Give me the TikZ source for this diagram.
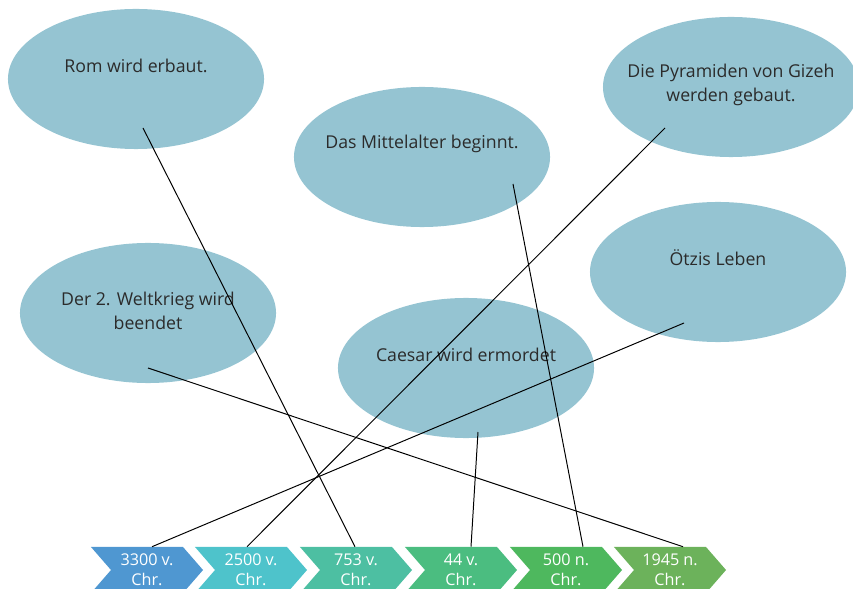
\documentclass[tikz,border=0pt]{standalone}
\usepackage{fontspec}
\setmainfont{Open Sans}
\usetikzlibrary{shapes.geometric,shapes.symbols,calc}
\definecolor{bubblefill}{HTML}{95C4D2}
\definecolor{bubbletext}{HTML}{2B2B2B}
\definecolor{c1}{HTML}{4F97D1}
\definecolor{c2}{HTML}{4EC3CB}
\definecolor{c3}{HTML}{4DBFA2}
\definecolor{c4}{HTML}{4BBD80}
\definecolor{c5}{HTML}{4EB85E}
\definecolor{c6}{HTML}{6CB25B}
\begin{document}
\begin{tikzpicture}[x=0.025cm,y=-0.025cm,%
% common options for the ellipses:
bubble/.style = {ellipse, fill=bubblefill, minimum width=6.4cm,
            minimum height=3.5cm, inner sep=0},
btext/.style = {align=center, text=bubbletext, font=\fontsize{12.6}{17}\selectfont},
% common options for the arrows of the time line:
era/.style = {signal, signal to=east, signal from=west, signal pointer angle=98,
            fill=#1, text=white, align=center, minimum width=2.8cm,
            minimum height=1.15cm, inner sep=0,
            font=\fontsize{11.5}{14.2}\selectfont},
link/.style = {draw=black, line width=0.7pt}]
\useasboundingbox (0,0) rectangle (853,589);
\node[era=c1] (T1) at (147,570) {3300 v.\\Chr.};
\node[era=c2] (T2) at (251,570) {2500 v.\\Chr.};
\node[era=c3] (T3) at (356,570) {753 v.\\Chr.};
\node[era=c4] (T4) at (461,570) {44 v.\\Chr.};
\node[era=c5] (T5) at (566,570) {500 n.\\Chr.};
\node[era=c6] (T6) at (670,570) {1945 n.\\Chr.};
\node[bubble,label={[btext,yshift=0.33cm]center:Rom wird erbaut.}] (E1) at (136,79) {};
\node[bubble,label={[btext,yshift=0.05cm]center:Die Pyramiden von Gizeh\\werden gebaut.}] (E2) at (731,87) {};
\node[bubble,label={[btext,yshift=0.33cm]center:Das Mittelalter beginnt.}] (E3) at (422,157) {};
\node[bubble,label={[btext,yshift=0.35cm]center:Ötzis Leben}] (E4) at (718,272) {};
\node[bubble,label={[btext,yshift=0.05cm]center:Der 2. Weltkrieg wird\\beendet}] (E5) at (148,313) {};
\node[bubble,label={[btext,yshift=0.33cm]center:Caesar wird ermordet}] (E6) at (466,368) {};
\draw[link] ($(E1)+(7,49)$) -- ($(T3.north)+(-1,0)$);
\draw[link] ($(E2)+(-66,41)$) -- ($(T2.north)+(-4,0)$);
\draw[link] ($(E3)+(91,27)$) -- ($(T5.north)+(17,0)$);
\draw[link] ($(E4)+(-34,51)$) -- ($(T1.north)+(5,0)$);
\draw[link] ($(E5)+(0,55)$) -- ($(T6.north)+(13,0)$);
\draw[link] ($(E6)+(12,64)$) -- ($(T4.north)+(10,0)$);
\end{tikzpicture}
\end{document}
